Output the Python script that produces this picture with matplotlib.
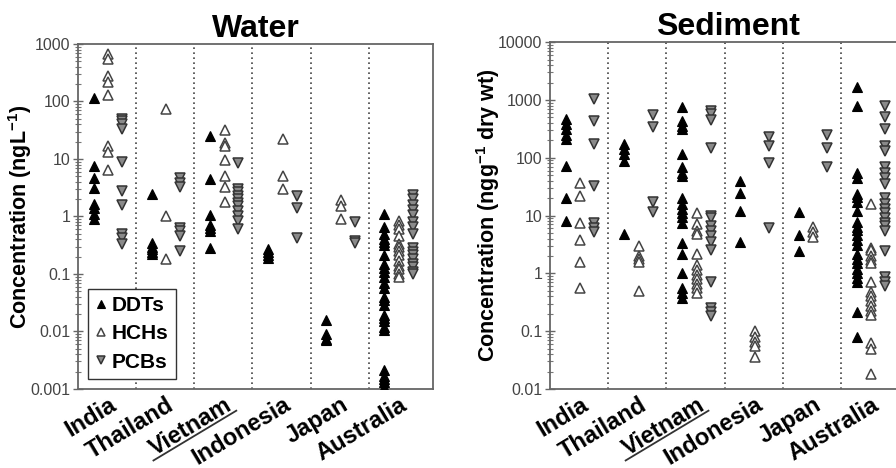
import numpy as np
import matplotlib
matplotlib.use('Agg')
import matplotlib.pyplot as plt
from matplotlib.lines import Line2D
from matplotlib.transforms import IdentityTransform
from matplotlib.ticker import FixedLocator, FixedFormatter, LogLocator, NullFormatter

plt.rcParams['font.family'] = ['Liberation Sans', 'DejaVu Sans']
plt.rcParams['mathtext.fontset'] = 'custom'
plt.rcParams['mathtext.rm'] = 'Liberation Sans:bold'
plt.rcParams['mathtext.default'] = 'rm'

countries = ['India', 'Thailand', 'Vietnam', 'Indonesia', 'Japan', 'Australia']

# water, ng/L
water_ddt = [[115, 7.5, 4.7, 3.1, 1.65, 1.4, 1.1, 0.9],
             [2.5, 0.35, 0.3, 0.27, 0.24, 0.22],
             [25, 4.5, 1.05, 0.72, 0.62, 0.55, 0.28],
             [0.27, 0.24, 0.21, 0.19],
             [0.016, 0.009, 0.0075, 0.007],
             [1.1, 0.66, 0.5, 0.4, 0.36, 0.32, 0.21, 0.15, 0.126, 0.11, 0.09, 0.069, 0.056,
              0.04, 0.035, 0.029, 0.019, 0.017, 0.015, 0.012, 0.0107, 0.0021, 0.0017,
              0.0015, 0.0013, 0.0011]]
water_hch = [[680, 550, 280, 220, 130, 17, 13, 6.5],
             [75, 1.0, 0.18],
             [32, 19, 17, 9.5, 5, 3.2, 1.8],
             [22, 5, 3],
             [1.9, 1.5, 0.9],
             [0.85, 0.7, 0.6, 0.45, 0.33, 0.3, 0.25, 0.21, 0.17, 0.14, 0.12, 0.1, 0.09]]
water_pcb = [[50, 45, 40, 33, 8.7, 2.8, 1.6, 0.5, 0.42, 0.33],
             [4.7, 3.8, 3.3, 0.63, 0.55, 0.45, 0.25],
             [8.5, 3.0, 2.7, 2.3, 2.0, 1.7, 1.5, 1.25, 1.0, 0.82, 0.6],
             [2.3, 1.4, 0.42],
             [0.8, 0.38, 0.35],
             [2.4, 2.0, 1.6, 1.3, 1.05, 0.8, 0.65, 0.5, 0.28, 0.24, 0.21, 0.18, 0.15,
              0.13, 0.11, 0.1]]

# sediment, ng/g dry wt
sed_ddt = [[470, 380, 310, 250, 210, 72, 20, 8],
           [170, 140, 115, 88, 4.8],
           [750, 430, 350, 320, 115, 70, 55, 48, 20, 16, 13, 11, 9.5, 7.5, 3.3, 2.2,
            1.0, 0.55, 0.45, 0.38],
           [40, 25, 12, 3.5],
           [11.5, 4.6, 2.4],
           [1700, 780, 54, 45, 24, 21, 17, 12, 7.8, 6.3, 5.6, 4.6, 3.8, 3.1, 2.2, 1.8,
            1.5, 1.2, 1.0, 0.82, 0.71, 0.21, 0.08]]
sed_hch = [[36, 22, 7.5, 3.8, 1.6, 0.55],
           [3.0, 2.0, 1.8, 1.6, 0.5],
           [11, 7, 5.5, 4.8, 2.2, 1.4, 1.15, 0.95, 0.8, 0.65, 0.55, 0.45],
           [0.1, 0.08, 0.065, 0.055, 0.036],
           [6.3, 5.2, 4.3],
           [16, 2.7, 2.5, 2.0, 1.7, 1.5, 0.7, 0.48, 0.4, 0.33, 0.27, 0.22, 0.19, 0.062,
            0.05, 0.018]]
sed_pcb = [[1050, 430, 170, 32, 7.3, 6.2, 5.2],
           [550, 340, 17, 11.5],
           [650, 560, 450, 145, 10, 9, 6.5, 5.5, 4.5, 3.5, 2.5, 0.7, 0.25, 0.21, 0.18],
           [230, 160, 80, 6],
           [245, 145, 70],
           [800, 500, 310, 160, 130, 70, 55, 45, 35, 20, 16, 13, 11, 9, 7.5, 6.5, 5.5,
            2.4, 0.85, 0.72, 0.6]]

water_ticks = [0.001, 0.01, 0.1, 1, 10, 100, 1000]
water_ticklabels = ['0.001', '0.01', '0.1', '1', '10', '100', '1000']
sed_ticks = [0.01, 0.1, 1, 10, 100, 1000, 10000]
sed_ticklabels = ['0.01', '0.1', '1', '10', '100', '1000', '10000']

OFFS = [-0.23, 0.02, 0.26]
STYLES = [dict(marker='^', color='black', mec='black', mew=0.8),
          dict(marker='^', color='white', mec='#444444', mew=1.1),
          dict(marker='v', color='#8a8a8a', mec='#333333', mew=1.1)]
NAMES = ['DDTs', 'HCHs', 'PCBs']
XFS = 17

fig = plt.figure(figsize=(8.96, 4.68), dpi=100)
ax1 = fig.add_axes([0.087, 0.169, 0.396, 0.737])
ax2 = fig.add_axes([0.614, 0.169, 0.396, 0.741])


def panel(ax, series, ticks, ticklabels, title, ylabel):
    ax.set_yscale('log')
    for k, (vals, st) in enumerate(zip(series, STYLES)):
        for i, v in enumerate(vals):
            ax.plot(np.full(len(v), i + OFFS[k]), v, ls='none', ms=7, **st,
                    label=NAMES[k] if i == 0 else None, zorder=3)
    for xd in np.arange(0.5, 5, 1.0):
        ax.axvline(xd, color='#444444', ls=(0, (1, 2)), lw=1.2, zorder=1)
    ax.set_xlim(-0.5, 5.6)
    ax.set_ylim(ticks[0], ticks[-1])
    ax.yaxis.set_major_locator(FixedLocator(ticks))
    ax.yaxis.set_major_formatter(FixedFormatter(ticklabels))
    ax.yaxis.set_minor_locator(LogLocator(base=10, subs=np.arange(2, 10)))
    ax.yaxis.set_minor_formatter(NullFormatter())
    ax.tick_params(axis='y', which='major', direction='inout', length=7, width=1,
                   colors='#666666', labelcolor='#444444', labelsize=11.5, pad=2)
    ax.tick_params(axis='y', which='minor', direction='inout', length=4, width=0.8,
                   colors='#777777')
    ax.set_xticks(np.arange(6) + 0.02)
    ax.set_xticklabels(countries, fontsize=XFS, fontweight='bold')
    ax.tick_params(axis='x', length=0, pad=3)
    for lab in ax.get_xticklabels():
        lab.set_rotation(31)
        lab.set_ha('right')
        lab.set_va('top')
        lab.set_rotation_mode('anchor')
    for sp in ax.spines.values():
        sp.set_color('#666666')
        sp.set_linewidth(1.3)
    ax.set_title(title, fontsize=23, fontweight='bold', pad=3)
    ax.set_ylabel(ylabel, fontsize=15.5, fontweight='bold', labelpad=-3)


panel(ax1, [water_ddt, water_hch, water_pcb], water_ticks, water_ticklabels,
      'Water', r'Concentration (ngL$^{-1}$)')
panel(ax2, [sed_ddt, sed_hch, sed_pcb], sed_ticks, sed_ticklabels,
      'Sediment', r'Concentration (ngg$^{-1}$ dry wt)')

leg = ax1.legend(loc='lower left', bbox_to_anchor=(0.028, 0.029), borderaxespad=0,
                 fancybox=False, edgecolor='#333333', framealpha=1,
                 prop=dict(size=15, weight='bold'), handlelength=0.6,
                 handletextpad=0.2, borderpad=0.35, labelspacing=0.45, markerscale=0.8)
leg.get_frame().set_linewidth(1.0)

# underline "Vietnam" on both panels
fig.canvas.draw()
r = fig.canvas.get_renderer()
th = np.deg2rad(31)
for ax in (ax1, ax2):
    lab = ax.get_xticklabels()[2]
    tmp = fig.text(0, 0, lab.get_text(), fontsize=XFS, fontweight='bold')
    bb = tmp.get_window_extent(r)
    tmp.remove()
    w, h = bb.width, bb.height
    x0, y0 = lab.get_transform().transform(lab.get_position())
    pts = np.array([[-w - 4, -0.92 * h], [1, -0.92 * h]])
    rx = pts[:, 0] * np.cos(th) - pts[:, 1] * np.sin(th) + x0
    ry = pts[:, 0] * np.sin(th) + pts[:, 1] * np.cos(th) + y0
    fig.add_artist(Line2D(rx, ry, transform=IdentityTransform(), color='#333333', lw=1.3))

fig.savefig('out.png', dpi=100)
